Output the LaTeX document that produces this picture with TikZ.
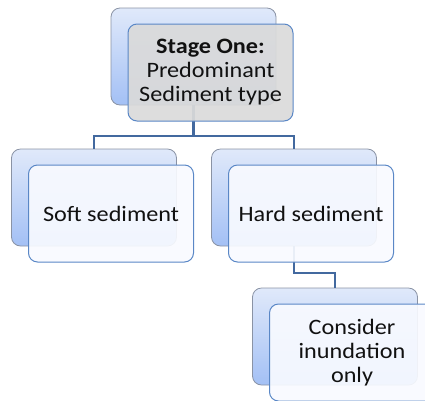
\documentclass[tikz,border=0pt]{standalone}
\usepackage{fontspec}
\setmainfont{Carlito}[FakeStretch=1.1]
\definecolor{backtop}{HTML}{E0E9FA}
\definecolor{backbot}{HTML}{A3C0F5}
\definecolor{backborder}{HTML}{8A93A5}
\definecolor{frontborder}{HTML}{5A87C6}
\definecolor{frontfill}{HTML}{F8FAFF}
\definecolor{topfill}{HTML}{DADADA}
\definecolor{conncolor}{HTML}{43699F}
\definecolor{txt}{HTML}{111111}
\begin{document}
\begin{tikzpicture}[x=1pt,y=-1pt,
  backbox/.style={draw=backborder, line width=0.8pt, rounded corners=9pt,
    minimum width=165pt, minimum height=97pt, top color=backtop, bottom color=backbot,
    inner sep=0pt, outer sep=0pt},
  frontbox/.style={draw=frontborder, line width=1pt, rounded corners=9pt,
    minimum width=165pt, minimum height=97pt, fill=frontfill, fill opacity=0.92,
    text opacity=1, text=txt, align=center, inner sep=0pt, outer sep=0pt,
    font=\fontsize{22}{24}\selectfont},
  topbox/.style={frontbox, fill=topfill, fill opacity=0.93},
  conn/.style={draw=conncolor, line width=2.7pt}]
\useasboundingbox (0,0) rectangle (425,400);
\clip (0,0) rectangle (425,400);
% back boxes
\node[backbox] (topback) at (193.5,56.5) {};
\node[backbox] (softback) at (94,197.5) {};
\node[backbox] (hardback) at (294,197.5) {};
\node[backbox] (consback) at (335,336.5) {};
% connectors
\draw[conn] (topback.south) -- ++(0,31) -| (softback.north);
\draw[conn] (topback.south) -- ++(0,31) -| (hardback.north);
\draw[conn] (hardback.south) -- ++(0,27) -| (consback.north);
% front boxes
\node[topbox] (topfront) at (210.5,72.5) {\textbf{Stage One:}\\Predominant\\Sediment type};
\node[frontbox] (softfront) at (111,213.5) {Soft sediment};
\node[frontbox] (hardfront) at (311,213.5) {Hard sediment};
\node[frontbox] (consfront) at (352,352.5) {Consider\\inundation\\only};
\end{tikzpicture}
\end{document}
